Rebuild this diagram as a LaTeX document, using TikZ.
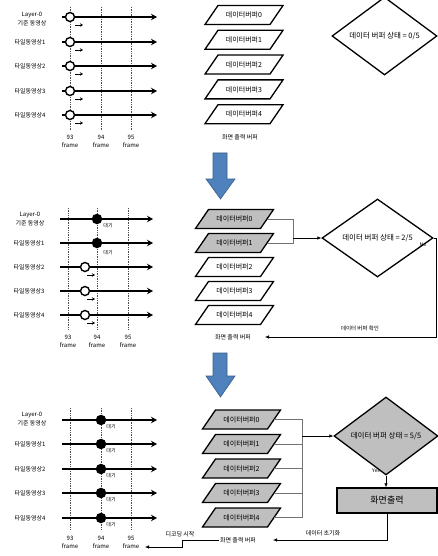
\documentclass[tikz,border=0pt]{standalone}
\usepackage{fontspec}
\setmainfont{Noto Sans CJK KR}
\usetikzlibrary{arrows.meta,shapes.geometric,calc}
\definecolor{bufgray}{RGB}{191,191,191}
\definecolor{arrblue}{RGB}{79,129,189}
\definecolor{arrblueline}{RGB}{56,93,138}
\tikzset{
  tl/.style={line width=1.6pt, -{Stealth[length=6pt,width=6.5pt]}},
  vdash/.style={densely dotted, line width=0.7pt, black!70},
  ocirc/.style={circle, draw, fill=white, line width=1.4pt, minimum size=9pt, inner sep=0pt},
  fcirc/.style={circle, fill=black, minimum size=10.5pt, inner sep=0pt},
  small/.style={font=\fontsize{6}{8.5}\selectfont, inner sep=0.5pt, align=center},
  tiny/.style={font=\fontsize{5}{6}\selectfont, inner sep=0.5pt},
  buftxt/.style={font=\fontsize{7}{8}\selectfont, inner sep=0.5pt},
  pg/.style={line width=1.3pt, draw=black},
  conn/.style={line width=0.6pt, draw=black!55},
  mini/.style={line width=0.8pt, -{Stealth[length=3pt,width=3.5pt]}},
  dia/.style={diamond, draw, line width=1.3pt, inner sep=0pt, font=\fontsize{7.5}{8}\selectfont},
  blk/.style={line width=0.6pt},
  blkarr/.style={line width=0.6pt, -{Latex[length=4pt,width=3.5pt]}},
  bluearrow/.style={fill=arrblue, draw=arrblueline, line width=0.6pt},
}
\newcommand{\pgram}[5]{%
  \filldraw[pg, fill=#4] (#2-39,#3+9.5) -- (#2+26,#3+9.5) -- (#2+39,#3-9.5) -- (#2-26,#3-9.5) -- cycle;
  \node[buftxt] (#1) at (#2,#3) {#5};
  \coordinate (#1e) at (#2+32.5,#3);
}
\begin{document}
\begin{tikzpicture}[x=1pt,y=-1pt]
\useasboundingbox (0,0) rectangle (438,556);

% ================= Panel 1 =================
\foreach \x in {70,101,131} {\draw[vdash] (\x,7) -- (\x,130);}
\foreach \i/\y in {0/17,1/42,2/66,3/91,4/115} {
  \coordinate (ps\i) at (62,\y);
  \coordinate (pe\i) at (157,\y);
  \draw[tl] (ps\i) -- (pe\i);
  \node[ocirc] (pc\i) at (70,\y) {};
  \coordinate (pm\i) at (75,\y+8);
  \coordinate (pn\i) at (83,\y+8);
  \draw[mini] (pm\i) -- (pn\i);
}
\node[small] (pl0) at (32,19) {Layer-0\\기준 동영상};
\foreach \i/\y in {1/42,2/66,3/91,4/115} {\node[small] (pl\i) at (30,\y) {타일동영상\i};}
\node[small] (pf93) at (70,141.5) {93\\frame};
\node[small] (pf94) at (101,141.5) {94\\frame};
\node[small] (pf95) at (131,141.5) {95\\frame};

\foreach \i in {0,...,4} {\pgram{pb\i}{244}{15+24.8*\i}{white}{데이터버퍼\i}}
\node[small] (po) at (240,137) {화면 출력 버퍼};
\node[dia, minimum width=105pt, minimum height=58pt] (pd) at (384.5,36) {데이터 버퍼 상태 = 0/5};

% blue arrow 1
\filldraw[bluearrow] (213,153) -- (227,153) -- (227,179) -- (235,179) -- (220.5,199) -- (206,179) -- (213,179) -- cycle;

% ================= Panel 2 =================
\foreach \x in {68,97,128} {\draw[vdash] (\x,208) -- (\x,330);}
\foreach \i/\y in {0/219,1/243,2/267,3/291,4/315} {
  \coordinate (qs\i) at (60,\y);
  \coordinate (qe\i) at (153,\y);
  \draw[tl] (qs\i) -- (qe\i);
}
\node[fcirc] (qc0) at (97,219) {};
\node[fcirc] (qc1) at (97,243) {};
\node[tiny] (qw0) at (108,225.5) {대기};
\node[tiny] (qw1) at (108,252.5) {대기};
\foreach \i/\y in {2/267,3/291,4/315} {
  \node[ocirc] (qc\i) at (85,\y) {};
  \coordinate (qm\i) at (87,\y+8);
  \coordinate (qn\i) at (95,\y+8);
  \draw[mini] (qm\i) -- (qn\i);
}
\node[small] (ql0) at (30,219) {Layer-0\\기준 동영상};
\foreach \i/\y in {1/243,2/267,3/291,4/315} {\node[small] (ql\i) at (29,\y) {타일동영상\i};}
\node[small] (qf93) at (68,341.5) {93\\frame};
\node[small] (qf94) at (97,341.5) {94\\frame};
\node[small] (qf95) at (128,341.5) {95\\frame};

\pgram{qb0}{234.5}{219}{bufgray}{데이터버퍼0}
\pgram{qb1}{234.5}{243}{bufgray}{데이터버퍼1}
\pgram{qb2}{234.5}{267}{white}{데이터버퍼2}
\pgram{qb3}{234.5}{291}{white}{데이터버퍼3}
\pgram{qb4}{234.5}{315}{white}{데이터버퍼4}
\node[small] (qo) at (233,337) {화면 출력 버퍼};
\coordinate (qot) at (265,337);
\node[dia, minimum width=111pt, minimum height=60pt] (qd) at (377.5,238) {데이터 버퍼 상태 = 2/5};
\coordinate (qj) at (293,238);
\draw[conn] (qb0e) -| (qj);
\draw[conn] (qb1e) -| (qj);
\draw[blkarr] (qj) -- (qd.west);
\node[tiny] (qno) at (423,245) {No};
\coordinate (qr) at (436,337);
\draw[blkarr] (qd.east) -| (qr) -- (qot);
\node[tiny, font=\fontsize{5.5}{6}\selectfont] (qchk) at (360,328) {데이터 버퍼 확인};

% blue arrow 2
\filldraw[bluearrow] (213,353) -- (227,353) -- (227,376) -- (235,376) -- (220.5,397) -- (206,376) -- (213,376) -- cycle;

% ================= Panel 3 =================
\foreach \x in {70,101,131} {\draw[vdash] (\x,408) -- (\x,530);}
\foreach \i/\y in {0/420,1/444,2/469,3/493,4/518} {
  \coordinate (rs\i) at (62,\y);
  \coordinate (re\i) at (157,\y);
  \draw[tl] (rs\i) -- (re\i);
  \node[fcirc] (rc\i) at (101,\y) {};
  \node[tiny] (rw\i) at (111,\y+7) {대기};
}
\node[small] (rl0) at (32,419) {Layer-0\\기준 동영상};
\foreach \i/\y in {1/444,2/469,3/493,4/518} {\node[small] (rl\i) at (30,\y) {타일동영상\i};}
\node[small] (rf93) at (70,542.5) {93\\frame};
\node[small] (rf94) at (101,542.5) {94\\frame};
\node[small] (rf95) at (131,542.5) {95\\frame};

\foreach \i in {0,...,4} {\pgram{rb\i}{241.5}{419.5+24.5*\i}{bufgray}{데이터버퍼\i}}
\node[small] (ro) at (238,540) {화면 출력 버퍼};
\coordinate (rot) at (273,540);
\node[dia, fill=bufgray, minimum width=104pt, minimum height=62pt] (rd) at (386,436) {데이터 버퍼 상태 = 5/5};
\coordinate (rj) at (302,436);
\draw[conn] (rb0e) -| (rj);
\draw[conn] (rb4e) -| (rj);
\draw[conn] (rb1e) -- (rb1e -| rj);
\draw[conn] (rb2e) -- (rb2e -| rj);
\draw[conn] (rb3e) -- (rb3e -| rj);
\draw[blkarr] (rj) -- (rd.west);
\node[draw, fill=bufgray, line width=1.4pt, minimum width=100pt, minimum height=25pt, inner sep=0pt, font=\fontsize{9}{10}\selectfont] (rbox) at (387,500.5) {화면출력};
\draw[blkarr] (rd.south) -- (rd.south |- rbox.north);
\node[tiny] (ryes) at (376,471) {Yes};
\draw[blkarr] (rbox.south) |- (rot);
\node[small] (rinit) at (323,533.5) {데이터 초기화};
\node[small] (rdec) at (180,534) {디코딩 시작};
\coordinate (rk1) at (182,540);
\coordinate (rk2) at (145,547);
\draw[blkarr] (ro.west) -- (rk1) |- (rk2);
\end{tikzpicture}
\end{document}
